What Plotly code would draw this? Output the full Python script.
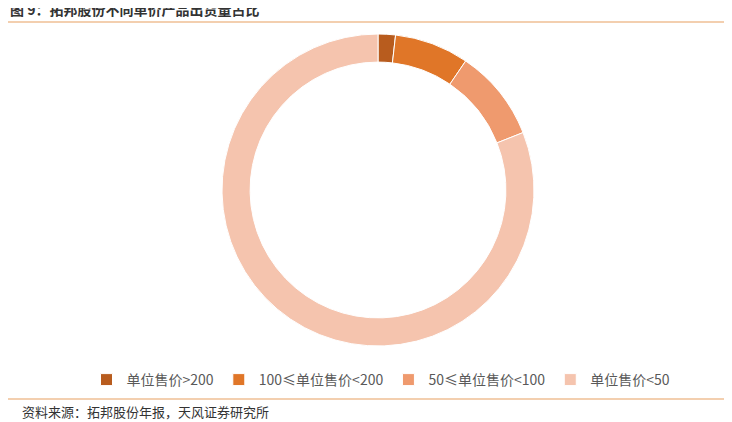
import plotly.graph_objects as go

labels = ["单位售价>200", "100≤单位售价<200", "50≤单位售价<100", "单位售价<50"]
values = [1.8, 7.7, 9.5, 81.0]
colors = ["#B85C1E", "#E07628", "#EF9A6E", "#F5C4AE"]

W, H = 724, 414
OX, OY = 8, 8
def px(x): return (x - OX) / W
def py(y): return 1 - (y - OY) / H

fig = go.Figure(go.Pie(
    labels=labels, values=values, hole=0.82, sort=False, direction="clockwise",
    rotation=0, marker=dict(colors=colors, line=dict(color="white", width=1)),
    textinfo="none", hoverinfo="label+percent",
    domain=dict(x=[px(222), px(534)], y=[py(347), py(33)]),
))
fig.update_layout(
    width=W, height=H, margin=dict(l=0, r=0, t=0, b=0),
    paper_bgcolor="white", plot_bgcolor="white",
    font=dict(family="Noto Sans CJK SC", color="#404040"),
    legend=dict(orientation="h", x=px(381), xanchor="center", y=py(380), yanchor="middle",
                font=dict(size=14, color="#595959"), itemwidth=30, traceorder="normal"),
    annotations=[
        dict(text="<b>图 9：拓邦股份不同单价产品出货量占比</b>", x=px(8), y=py(9), xref="paper", yref="paper",
             xanchor="left", yanchor="middle", showarrow=False, font=dict(size=14, color="#333333")),
        dict(text="资料来源：拓邦股份年报，天风证券研究所", x=px(20), y=py(411), xref="paper", yref="paper",
             xanchor="left", yanchor="middle", showarrow=False, font=dict(size=13, color="#333333")),
    ],
    shapes=[
        dict(type="line", xref="paper", yref="paper", x0=px(8), x1=1, y0=py(22), y1=py(22),
             line=dict(color="#E8A060", width=1.2)),
        dict(type="line", xref="paper", yref="paper", x0=px(8), x1=1, y0=py(399), y1=py(399),
             line=dict(color="#E8A060", width=1.2)),
    ],
)
fig.write_html("out.html")
